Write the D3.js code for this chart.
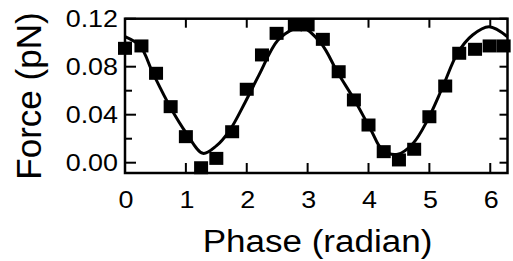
<!DOCTYPE html>
<html>
<head>
<meta charset="utf-8">
<script src="https://cdn.jsdelivr.net/npm/d3@7"></script>
<style>
  body { margin: 0; background: #fff; }
  svg text { font-family: "Liberation Sans", Arial, sans-serif; fill: #000; }
</style>
</head>
<body>
<div class="phaseChart"></div>
<script>
// measured data points (phase in radian, force in pN)
const phase = [0, 0.27, 0.51, 0.75, 1.0, 1.25, 1.5, 1.76, 2.0, 2.25, 2.49, 2.79, 3.0, 3.25, 3.51, 3.76, 4.0, 4.25, 4.5, 4.75, 5.0, 5.26, 5.49, 5.75, 5.99, 6.22];
const force = [0.0953, 0.0973, 0.0745, 0.0467, 0.0217, -0.0042, 0.0036, 0.0258, 0.0612, 0.0898, 0.1078, 0.1148, 0.1148, 0.1028, 0.0758, 0.0523, 0.0314, 0.0092, 0.0023, 0.0112, 0.0383, 0.0639, 0.0912, 0.0945, 0.0973, 0.0973];

// fitted curve
const fitPhase = [0, 0.25, 0.46, 0.74, 1.01, 1.28, 1.5, 1.72, 1.97, 2.2, 2.51, 2.79, 2.9, 3.22, 3.5, 3.77, 4.04, 4.23, 4.48, 4.73, 4.97, 5.22, 5.46, 5.71, 5.98, 6.283];
const fitForce = [0.105, 0.097, 0.0745, 0.0467, 0.0245, 0.0078, 0.014, 0.027, 0.05, 0.073, 0.102, 0.112, 0.1133, 0.0995, 0.0745, 0.0523, 0.0273, 0.0106, 0.007, 0.016, 0.0356, 0.0633, 0.091, 0.1064, 0.1133, 0.105];

const xTicks = [0, 1, 2, 3, 4, 5, 6];
const yTicks = [0, 0.04, 0.08, 0.12];
const yMinor = [0.02, 0.06, 0.1];
const xTitle = "Phase (radian)";
const yTitle = "Force (pN)";

const W = 513, H = 261;
const mLeft = 125, mRight = 507.5, mTop = 18.7, mBottom = 173;
const sx = 1.12; // the original picture is a bit stretched horizontally

const svg = d3.select(".phaseChart").append("svg")
  .attr("width", W).attr("height", H);

const x = d3.scaleLinear().domain([0, 2 * Math.PI]).range([mLeft, mRight]);
const y = d3.scaleLinear().domain([0, 0.12]).range([162.7, mTop]);

// inward ticks on all four sides
const g = svg.append("g").attr("stroke", "#000").attr("stroke-width", 2);
xTicks.forEach(v => {
  g.append("line").attr("x1", x(v)).attr("x2", x(v)).attr("y1", mBottom).attr("y2", mBottom - 10);
  g.append("line").attr("x1", x(v)).attr("x2", x(v)).attr("y1", mTop).attr("y2", mTop + 9);
});
yTicks.concat(yMinor).forEach(v => {
  const len = yTicks.includes(v) ? 11 : 7;
  g.append("line").attr("x1", mLeft).attr("x2", mLeft + len).attr("y1", y(v)).attr("y2", y(v));
  g.append("line").attr("x1", mRight).attr("x2", mRight - 8).attr("y1", y(v)).attr("y2", y(v));
});

// frame
svg.append("rect")
  .attr("x", mLeft).attr("y", mTop)
  .attr("width", mRight - mLeft).attr("height", mBottom - mTop)
  .attr("fill", "none").attr("stroke", "#000").attr("stroke-width", 2.5);

// tick labels
svg.selectAll(".xl").data(xTicks).enter().append("text")
  .attr("text-anchor", "middle")
  .attr("font-size", 24)
  .attr("transform", d => `translate(${x(d) + 1},207.5) scale(${sx},1)`)
  .text(d => d);
svg.selectAll(".yl").data(yTicks).enter().append("text")
  .attr("text-anchor", "end")
  .attr("font-size", 24)
  .attr("transform", d => `translate(118,${y(d) + 8.5}) scale(${sx},1)`)
  .text(d => d3.format(".2f")(d));

// axis titles
svg.append("text")
  .attr("text-anchor", "middle").attr("font-size", 31)
  .attr("transform", `translate(317.5,252) scale(1.13,1)`)
  .text(xTitle);
svg.append("text")
  .attr("text-anchor", "middle").attr("font-size", 35)
  .attr("transform", `translate(41,96) rotate(-90)`)
  .text(yTitle);

// fit curve
const line = d3.line()
  .x((d, i) => x(fitPhase[i]))
  .y(d => y(d))
  .curve(d3.curveCatmullRom.alpha(0.5));
svg.append("path")
  .attr("d", line(fitForce))
  .attr("fill", "none").attr("stroke", "#000").attr("stroke-width", 3);

// data squares
const sqW = 14, sqH = 13;
svg.selectAll(".pt").data(force).enter().append("rect")
  .attr("x", (d, i) => x(phase[i]) - sqW / 2)
  .attr("y", d => y(d) - sqH / 2)
  .attr("width", sqW).attr("height", sqH)
  .attr("fill", "#000");
</script>
</body>
</html>
